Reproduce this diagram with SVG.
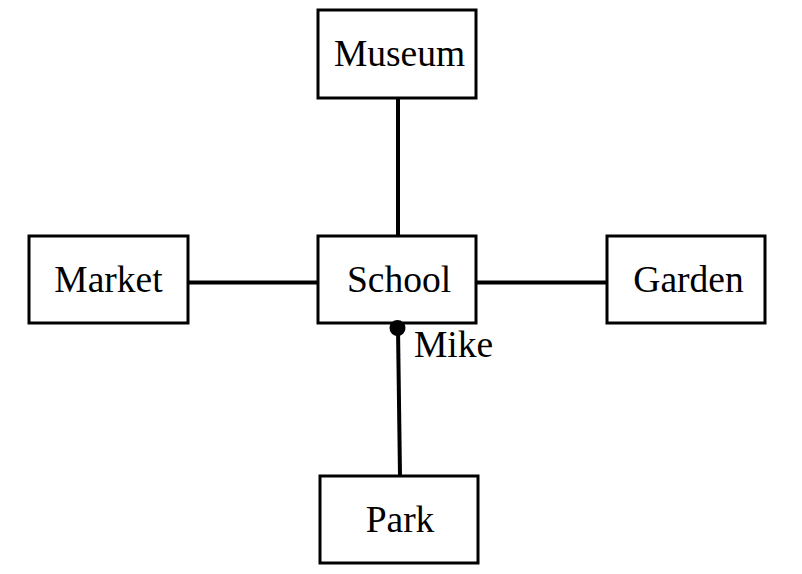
<svg xmlns="http://www.w3.org/2000/svg" width="802" height="574" viewBox="0 0 802 574">
<style>
.box{fill:#fff;stroke:#000;stroke-width:3}
.lbl{font-family:"Liberation Serif","Times New Roman",serif;font-size:37.5px;fill:#000;text-anchor:middle}
.edge{stroke:#000;stroke-width:4;fill:none}
</style>
<rect width="802" height="574" fill="#fff"/>
<g id="connectors">
<line class="edge" x1="398" y1="98" x2="398" y2="236"/>
<line class="edge" x1="188" y1="282.5" x2="318" y2="282.5"/>
<line class="edge" x1="476" y1="282.5" x2="607" y2="282.5"/>
<line class="edge" x1="398" y1="328" x2="400" y2="476"/>
</g>
<g id="museum"><rect class="box" x="318" y="10" width="158" height="88"/><text class="lbl" x="399.5" y="66">Museum</text></g>
<g id="market"><rect class="box" x="29" y="236" width="159" height="87"/><text class="lbl" x="108.5" y="292">Market</text></g>
<g id="school"><rect class="box" x="318" y="236" width="158" height="87"/><text class="lbl" x="399" y="292">School</text></g>
<g id="garden"><rect class="box" x="607" y="236" width="158" height="87"/><text class="lbl" x="688.5" y="292">Garden</text></g>
<g id="park"><rect class="box" x="320" y="476" width="158" height="87"/><text class="lbl" x="400" y="532">Park</text></g>
<g id="mike"><circle cx="397.5" cy="328" r="8" fill="#000"/><text class="lbl" x="414" y="357" style="text-anchor:start">Mike</text></g>
</svg>
